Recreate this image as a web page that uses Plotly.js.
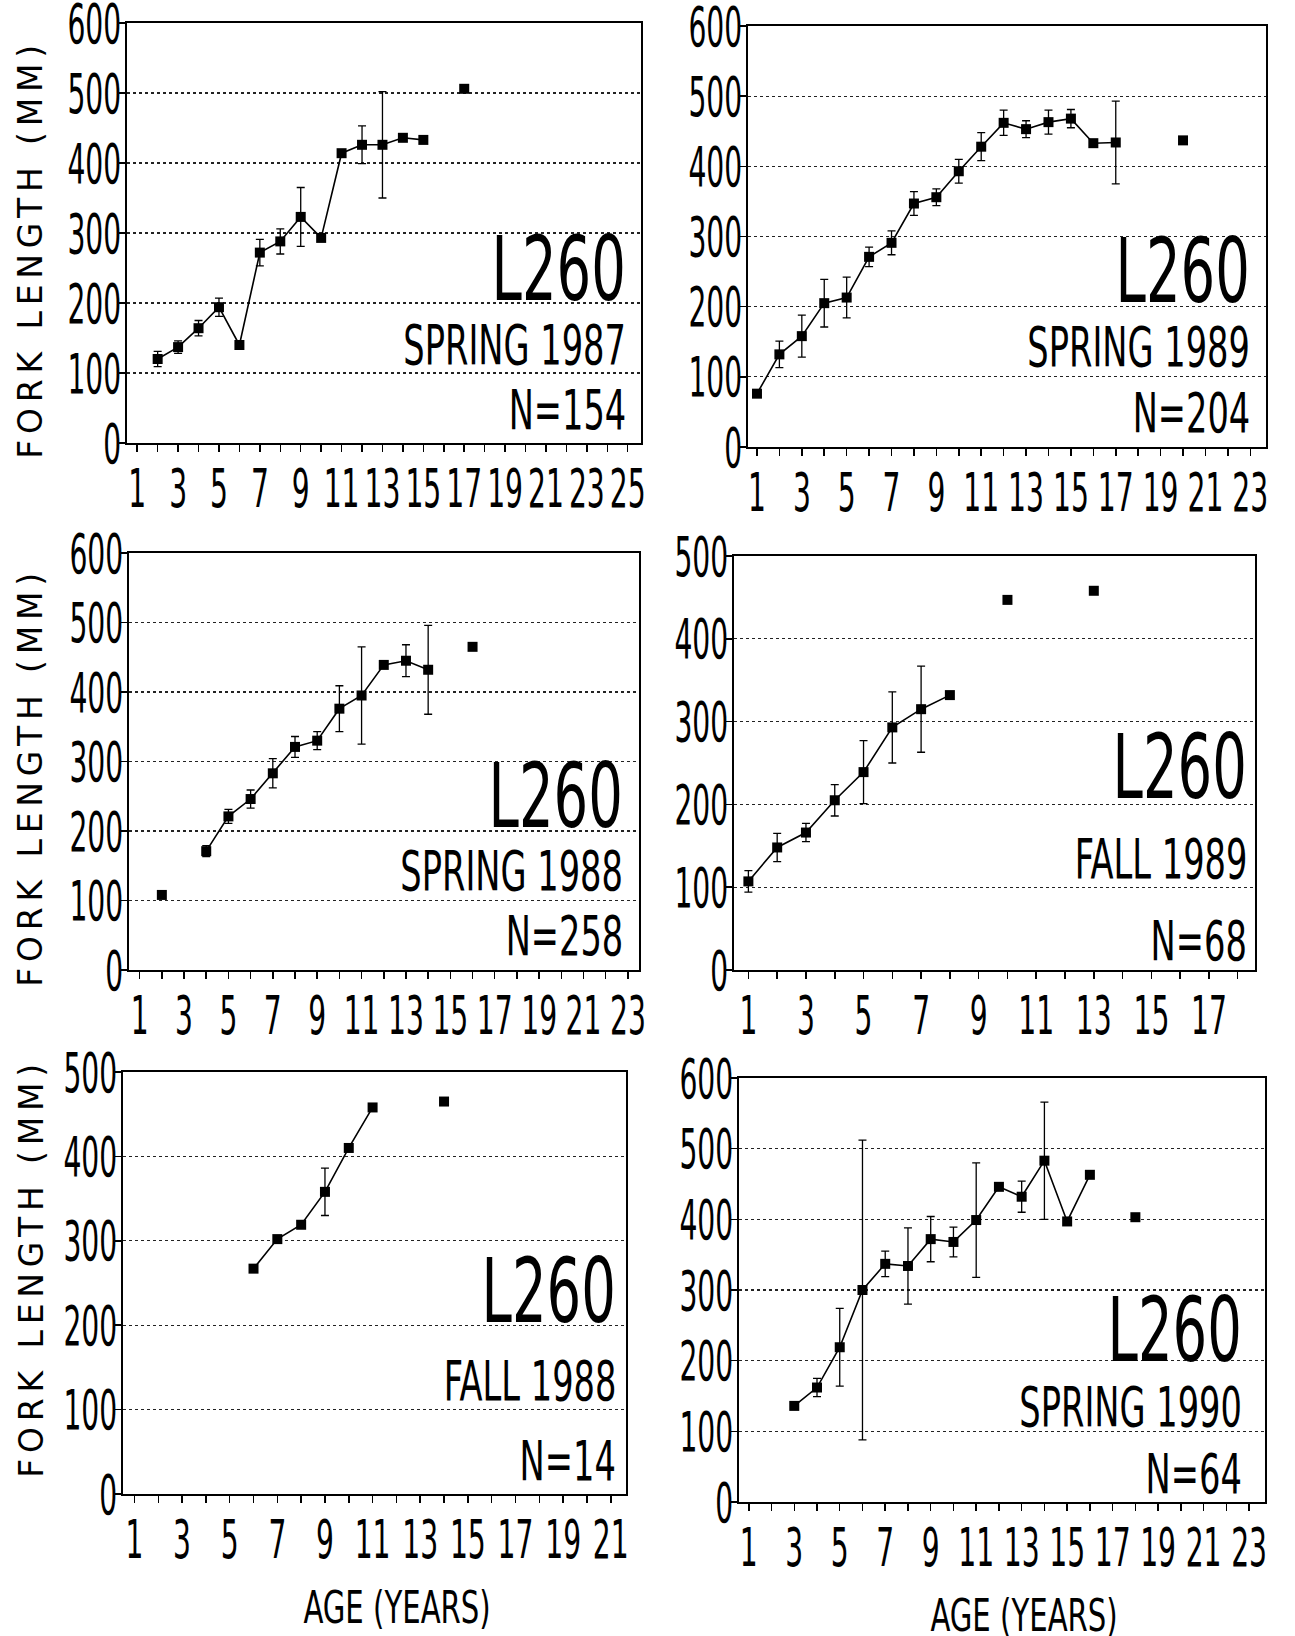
<!DOCTYPE html>
<html><head><meta charset="utf-8">
<script src="https://cdn.plot.ly/plotly-3.0.1.min.js"></script>
<style>
body{margin:0;background:#fff}
#chart{width:1295px;height:1636px}
</style></head><body><div id="chart"></div><script>
// ---- data ----
const age_s87 = [2,3,4,5,6,7,8,9,10,11,12,13,14,15,16,17];
const len_s87 = [120,137,164,194,140,272,288,323,293,414,426,426,436,433,null,506];
const err_s87 = [11,9,11,13,null,19,18,42,null,null,27,76,null,null,null,null];

const age_s89 = [1,2,3,4,5,6,7,8,9,10,11,12,13,14,15,16,17,18,19,20];
const len_s89 = [76,132,158,205,213,271,291,347,356,393,428,462,453,463,468,433,434,null,null,437];
const err_s89 = [null,19,30,34,29,14,17,17,12,17,20,18,12,17,13,null,59,null,null,null];

const age_s88 = [2,3,4,5,6,7,8,9,10,11,12,13,14,15,16];
const len_s88 = [108,null,171,221,246,283,321,330,376,395,439,445,432,null,465];
const err_s88 = [null,null,8,10,13,21,15,13,33,70,null,23,64,null,null];

const age_f89 = [1,2,3,4,5,6,7,8,9,10,11,12,13];
const len_f89 = [107,148,166,205,239,293,315,332,null,447,null,null,458];
const err_f89 = [13,17,11,19,38,43,52,null,null,null,null,null,null];

const age_f88 = [6,7,8,9,10,11,12,13,14];
const len_f88 = [267,302,319,358,410,458,null,null,465];
const err_f88 = [null,null,null,28,null,null,null,null,null];

const age_s90 = [3,4,5,6,7,8,9,10,11,12,13,14,15,16,17,18];
const len_s90 = [136,162,219,300,337,334,372,368,399,446,432,483,397,463,null,403];
const err_s90 = [null,13,55,212,18,54,32,21,81,null,22,83,null,null,null,null];

const stationLabel = "L260";
const seasonLabels = ["SPRING 1987","SPRING 1989","SPRING 1988","FALL 1989","FALL 1988","SPRING 1990"];
const sampleLabels = ["N=154","N=204","N=258","N=68","N=14","N=64"];
const yMax = [600,600,600,500,500,600];
const yTitle = "FORK LENGTH (MM)";
const xTitle = "AGE (YEARS)";

// ---- layout (pixels) ----
const W = 1295, H = 1636;
const boxes = [ // [x0,x1,y0,y1] in page px
  [127, 641, 23, 443],
  [748, 1266, 26, 447],
  [129, 639, 553, 970],
  [734, 1255, 556, 970],
  [123, 626, 1072, 1494],
  [739, 1265, 1078, 1502]
];
const xRanges = [[0.5,25.65],[0.6,23.7],[0.52,23.5],[0.5,18.6],[0.52,21.64],[0.57,23.7]];
const labelPos = [ // right x, centre y for L260 / season / N
  [626, 269, 345, 410],
  [1250, 271, 347, 413],
  [623, 796, 871, 936],
  [1247, 767, 859, 941],
  [616, 1291, 1381, 1461],
  [1242, 1330, 1407, 1474]
];
const yTitleRows = [252, 780, 1271];
const yTitleX = 31, yTitleLen = 414;
const xTitlePos = [[397, 1607], [1024, 1615]];

const COND = "DejaVu Sans Condensed, sans-serif";
const WIDE = "DejaVu Sans, sans-serif";
const SQ_ANN = 0.68, SQ_XT = 0.58, SQ_YT = 0.56, SQ_XTITLE = 0.72;

const cv = document.createElement("canvas").getContext("2d");
function textW(str, size, fam) { cv.font = size + "px " + fam; return cv.measureText(str).width; }

const ages = [age_s87, age_s89, age_s88, age_f89, age_f88, age_s90];
const lens = [len_s87, len_s89, len_s88, len_f89, len_f88, len_s90];
const errs = [err_s87, err_s89, err_s88, err_f89, err_f88, err_s90];

const traces = [];
const layout = {
  width: W, height: H, showlegend: false,
  margin: {l:0, r:0, t:0, b:0},
  paper_bgcolor: "#fff", plot_bgcolor: "#fff",
  font: {family: COND, color: "#000"},
  annotations: []
};
const axisIds = [];

for (let i = 0; i < 6; i++) {
  const n = i + 1;
  const xa = n === 1 ? "x" : "x" + n;
  const ya = n === 1 ? "y" : "y" + n;
  axisIds.push(xa, ya);
  traces.push({
    type: "scatter", mode: "lines+markers",
    x: ages[i], y: lens[i], xaxis: xa, yaxis: ya,
    connectgaps: false,
    line: {color: "#000", width: 1.6},
    marker: {symbol: "square", size: 10, color: "#000"},
    error_y: {type: "data", array: errs[i], visible: true, color: "#000", thickness: 1.3, width: 4},
    hoverinfo: "x+y"
  });
  const b = boxes[i];
  layout["xaxis" + (n === 1 ? "" : n)] = {
    domain: [b[0] / W, b[1] / W], anchor: ya,
    range: xRanges[i], tick0: 1, dtick: 2,
    ticks: "outside", ticklen: 7, tickwidth: 1.5, tickcolor: "#000",
    minor: {dtick: 1, tick0: 1, ticks: "outside", ticklen: 7, tickwidth: 1.5, tickcolor: "#000"},
    showline: true, mirror: true, linecolor: "#000", linewidth: 1.6,
    showgrid: false, zeroline: false, tickangle: 0,
    ticklabelstandoff: -9, ticklabeloverflow: "allow",
    tickfont: {family: COND, size: 54, color: "#000"}
  };
  layout["yaxis" + (n === 1 ? "" : n)] = {
    domain: [1 - b[3] / H, 1 - b[2] / H], anchor: xa,
    range: [0, yMax[i]], tick0: 0, dtick: 100,
    ticks: "outside", ticklen: 6, tickwidth: 1.5, tickcolor: "#000",
    showline: true, mirror: true, linecolor: "#000", linewidth: 1.6,
    showgrid: true, gridcolor: "#222", griddash: "dot", gridwidth: 1.3,
    zeroline: false, ticklabelstandoff: -13, ticklabeloverflow: "allow",
    tickfont: {family: COND, size: 56, color: "#000"}
  };
  const p = labelPos[i];
  const texts = [[stationLabel, 89, p[1]], [seasonLabels[i], 55, p[2]], [sampleLabels[i], 55, p[3]]];
  texts.forEach(t => {
    const w = textW(t[0], t[1], COND) * SQ_ANN;
    layout.annotations.push({
      text: t[0], xref: "paper", yref: "paper",
      x: (p[0] - w / 2) / W, y: 1 - t[2] / H, xanchor: "center", yanchor: "middle",
      showarrow: false, font: {family: COND, size: t[1], color: "#000"}
    });
  });
}
// y-axis titles (one per row, left of the left-hand panels)
yTitleRows.forEach(yc => layout.annotations.push({
  text: yTitle, xref: "paper", yref: "paper", x: yTitleX / W, y: 1 - yc / H,
  xanchor: "center", yanchor: "middle", textangle: -90, showarrow: false,
  font: {family: WIDE, size: 33, color: "#000"}
}));
// x-axis titles under the bottom row
xTitlePos.forEach(p => layout.annotations.push({
  text: xTitle, xref: "paper", yref: "paper", x: p[0] / W, y: 1 - p[1] / H,
  xanchor: "center", yanchor: "middle", showarrow: false,
  font: {family: COND, size: 45, color: "#000"}
}));

function squeeze(nodes, ratio) {
  nodes.forEach(t => {
    const w = t.getComputedTextLength();
    if (w > 0) {
      t.setAttribute("textLength", (w * ratio).toFixed(1));
      t.setAttribute("lengthAdjust", "spacingAndGlyphs");
    }
  });
}

Plotly.newPlot("chart", traces, layout, {staticPlot: true}).then(gd => {
  axisIds.forEach(id => {
    squeeze(gd.querySelectorAll("." + id + "tick text"), id[0] === "x" ? SQ_XT : SQ_YT);
  });
  gd.querySelectorAll(".annotation-text").forEach(t => {
    if (t.textContent === yTitle) {
      t.setAttribute("textLength", yTitleLen);
      t.setAttribute("lengthAdjust", "spacing");
    } else if (t.textContent === xTitle) {
      squeeze([t], SQ_XTITLE);
    } else {
      squeeze([t], SQ_ANN);
    }
  });
});
</script></body></html>
